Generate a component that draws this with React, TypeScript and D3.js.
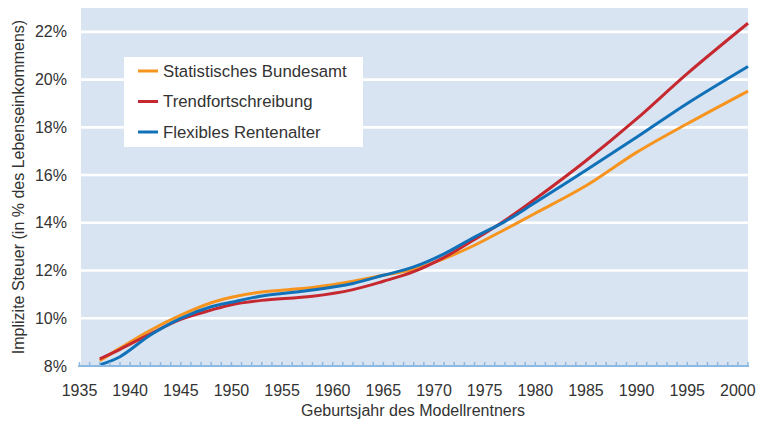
import React, { useEffect } from "react";
import * as d3 from "d3";

const years = [1937, 1939, 1942, 1945, 1948, 1950, 1953, 1958, 1962, 1965, 1968, 1971, 1974, 1977, 1980, 1985, 1990, 1995, 2001];
const bundesamt = [8.22, 8.75, 9.5, 10.13, 10.65, 10.88, 11.1, 11.29, 11.55, 11.8, 12.05, 12.5, 13.06, 13.72, 14.4, 15.55, 16.95, 18.15, 19.52];
const trend = [8.3, 8.7, 9.35, 9.95, 10.34, 10.57, 10.75, 10.92, 11.2, 11.55, 11.95, 12.55, 13.3, 14.1, 15.0, 16.6, 18.35, 20.25, 22.36];
const flexibel = [8.05, 8.39, 9.3, 10.0, 10.48, 10.67, 10.93, 11.18, 11.46, 11.8, 12.15, 12.7, 13.4, 14.05, 14.85, 16.2, 17.58, 19.0, 20.55];

const seriesNames = ["Statistisches Bundesamt", "Trendfortschreibung", "Flexibles Rentenalter"];
const seriesColors = ["#f7941e", "#c5282f", "#1070b8"];
const xTicks = [1935, 1940, 1945, 1950, 1955, 1960, 1965, 1970, 1975, 1980, 1985, 1990, 1995, 2000];
const yTicks = [8, 10, 12, 14, 16, 18, 20, 22];

const W = 764;
const H = 421;
const FONT = "'Liberation Sans', Arial, Helvetica, sans-serif";

export default function App() {
  useEffect(() => {
    document.body.style.margin = "0";
  }, []);

  const x = d3.scaleLinear().domain([1935, 2001]).range([79.5, 748]);
  const y = d3.scaleLinear().domain([8, 23]).range([366, 8]);

  const line = d3
    .line<number>()
    .x((_, i) => x(years[i]))
    .y((d) => y(d))
    .curve(d3.curveCatmullRom.alpha(0.5));

  const allSeries = [bundesamt, trend, flexibel];
  const yearTicks = d3.range(1935, 2002);

  return (
    <svg width={W} height={H} style={{ display: "block" }} fontFamily={FONT}>
      <rect x={81} y={y(23)} width={748 - 81} height={y(8) - y(23)} fill="#d9e4f3" />
      {yTicks.slice(1).map((t) => (
        <line key={t} x1={81} x2={748} y1={y(t)} y2={y(t)} stroke="#fff" strokeWidth={2.6} />
      ))}
      {yTicks.map((t) => (
        <text key={t} x={67} y={y(t)} dy="0.35em" textAnchor="end" fontSize={16} fill="#333">
          {t}%
        </text>
      ))}
      {allSeries.map((s, k) => (
        <path key={k} d={line(s) || ""} fill="none" stroke={seriesColors[k]} strokeWidth={3} strokeLinejoin="round" />
      ))}
      <line x1={78} x2={749} y1={y(8)} y2={y(8)} stroke="#8db8e2" strokeWidth={2} />
      {yearTicks.map((t) => (
        <line key={t} x1={x(t)} x2={x(t)} y1={y(8)} y2={y(8) - 4} stroke="#8db8e2" strokeWidth={1.5} />
      ))}
      {xTicks.map((t) => (
        <text key={t} x={x(t)} y={396} textAnchor="middle" fontSize={16} fill="#333">
          {t}
        </text>
      ))}
      <text x={413} y={416} textAnchor="middle" fontSize={16} fill="#333">
        Geburtsjahr des Modellrentners
      </text>
      <text
        transform={`translate(24, ${(y(8) + y(23)) / 2}) rotate(-90)`}
        textAnchor="middle"
        fontSize={16}
        fill="#333"
      >
        Implizite Steuer (in % des Lebenseinkommens)
      </text>
      <rect x={124} y={57} width={239} height={90} fill="#fff" />
      {seriesNames.map((n, i) => (
        <g key={n} transform={`translate(138, ${71 + i * 30.5})`}>
          <line x1={0} x2={20} y1={0} y2={0} stroke={seriesColors[i]} strokeWidth={3} />
          <text x={25} y={0} dy="0.35em" fontSize={16.8} fill="#333">
            {n}
          </text>
        </g>
      ))}
    </svg>
  );
}
